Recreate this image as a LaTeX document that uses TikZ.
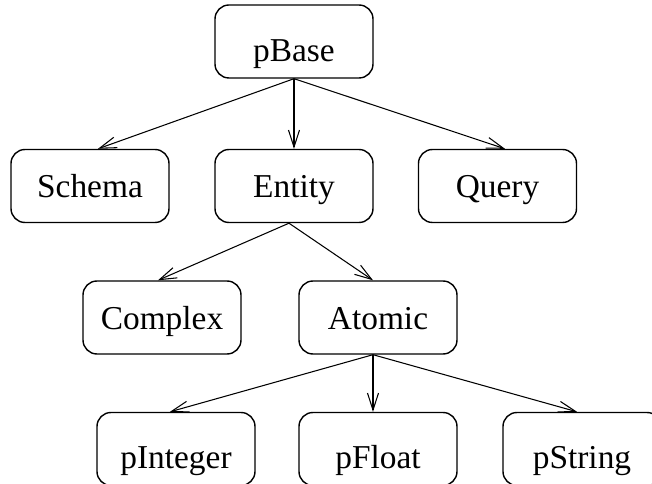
\documentclass[tikz,border=0pt]{standalone}
\usepackage{fontspec}
\setmainfont{Liberation Serif}
\usepackage{tikz}
\usetikzlibrary{arrows.meta}

\begin{document}
\begin{tikzpicture}[
    box/.style={rectangle, rounded corners=0.28cm, draw=black, line width=0.8pt,
                minimum width=3.16cm, minimum height=1.46cm, align=center,
                text height=0.48cm, text depth=0cm,
                font=\fontsize{19}{22}\selectfont},
    lowbox/.style={box, text height=0.8cm},
    arrow/.style={-{Straight Barb[length=0.34cm, width=0.22cm]}, line width=0.6pt}
]
    \useasboundingbox (-5.88,0.83) rectangle (7.16,-8.85);

    % Root
    \node[lowbox] (pbase) at (0,0) {pBase};

    % Second level
    \node[box] (schema) at (-4.08,-2.89) {Schema};
    \node[box] (entity) at (0,-2.89)     {Entity};
    \node[box] (query)  at (4.07,-2.89)  {Query};

    % Entity kinds
    \node[box] (complex) at (-2.64,-5.52) {Complex};
    \node[box] (atomic)  at (1.68,-5.52)  {Atomic};

    % Atomic types
    \node[lowbox] (pinteger) at (-2.36,-8.15) {pInteger};
    \node[lowbox] (pfloat)   at (1.68,-8.15)  {pFloat};
    \node[lowbox] (pstring)  at (5.76,-8.15)  {pString};

    % Arrows
    \draw[arrow] (pbase.south) -- ([xshift=0.16cm]schema.north);
    \draw[arrow] (pbase.south) -- (entity.north);
    \draw[arrow] (pbase.south) -- ([xshift=0.15cm]query.north);
    \draw[arrow] ([xshift=-0.1cm]entity.south) -- ([xshift=-0.08cm]complex.north);
    \draw[arrow] ([xshift=-0.1cm]entity.south) -- ([xshift=-0.1cm]atomic.north);
    \draw[arrow] ([xshift=-0.1cm]atomic.south) -- ([xshift=-0.12cm]pinteger.north);
    \draw[arrow] ([xshift=-0.1cm]atomic.south) -- ([xshift=-0.1cm]pfloat.north);
    \draw[arrow] ([xshift=-0.1cm]atomic.south) -- ([xshift=-0.1cm]pstring.north);
\end{tikzpicture}
\end{document}
